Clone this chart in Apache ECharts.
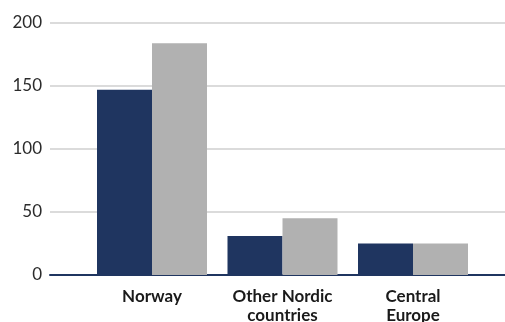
<!DOCTYPE html>
<html>
<head>
<meta charset="utf-8">
<style>
  html, body { margin: 0; padding: 0; background: #fff; }
  #chart { width: 505px; height: 322px; }
</style>
<script src="https://cdn.jsdelivr.net/npm/echarts@6/dist/echarts.min.js"></script>
</head>
<body>
<div id="chart"></div>
<script>
// Categories and series values
const categories = ['Norway', 'Other Nordic\ncountries', 'Central\nEurope'];
const seriesA = [147, 31, 25];   // navy bars
const seriesB = [184, 45, 25];   // grey bars
const yTicks = [0, 50, 100, 150, 200];

const NAVY = '#1f3560';
const GREY = '#b1b1b1';
const FONT = 'Lato, "Open Sans", sans-serif';

const chart = echarts.init(document.getElementById('chart'), null, { renderer: 'canvas' });

chart.setOption({
  animation: false,
  backgroundColor: '#fff',
  grid: [
    // frame: value axis, gridlines and baseline across the full width
    { left: 50, right: 0, top: 23, bottom: 47, containLabel: false, outerBoundsMode: 'none' },
    // bars
    { left: 86.75, width: 391.5, top: 23, bottom: 47, containLabel: false, outerBoundsMode: 'none' }
  ],
  xAxis: [
    {
      gridIndex: 0, type: 'category', data: [''],
      axisLine: { show: true, lineStyle: { color: NAVY, width: 2 } },
      axisTick: { show: false }, axisLabel: { show: false }
    },
    {
      gridIndex: 1, type: 'category', data: categories,
      axisLine: { show: false }, axisTick: { show: false },
      axisLabel: {
        margin: 12, color: '#1a1a1a', fontFamily: FONT, fontWeight: 'bold',
        fontSize: 17, lineHeight: 19, interval: 0
      }
    }
  ],
  yAxis: [
    {
      gridIndex: 0, type: 'value', min: yTicks[0], max: yTicks[yTicks.length - 1], interval: 50,
      axisLine: { show: false }, axisTick: { show: false },
      axisLabel: { margin: 8, color: '#2b2b2b', fontFamily: FONT, fontSize: 17 },
      splitLine: { show: true, lineStyle: { color: '#cfcfcf', width: 1.5 } }
    },
    {
      gridIndex: 1, type: 'value', min: yTicks[0], max: yTicks[yTicks.length - 1], interval: 50,
      show: false, splitLine: { show: false }
    }
  ],
  series: [
    {
      type: 'bar', xAxisIndex: 1, yAxisIndex: 1, data: seriesA,
      barWidth: 55, barGap: '0%', itemStyle: { color: NAVY }, z: 3
    },
    {
      type: 'bar', xAxisIndex: 1, yAxisIndex: 1, data: seriesB,
      barWidth: 55, barGap: '0%', itemStyle: { color: GREY }, z: 3
    }
  ]
});
</script>
</body>
</html>
